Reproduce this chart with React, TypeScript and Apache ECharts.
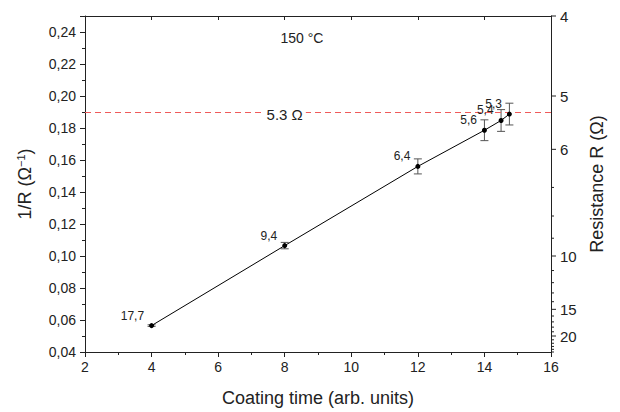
import React, { useEffect, useRef } from 'react';
import * as echarts from 'echarts';

const coatingTime = [4, 8, 12, 14, 14.5, 14.75];
const inverseR = [0.0565, 0.1065, 0.156, 0.1786, 0.1847, 0.1887];
const errorR = [0.0005, 0.002, 0.0047, 0.0065, 0.0068, 0.0068];
const resistanceLabels = ['17,7', '9,4', '6,4', '5,6', '5,4', '5,3'];
const thresholdR = 5.3;
const thresholdLabel = '5.3 Ω';
const thresholdLabelX = 8;
const rTicks = [4, 5, 6, 7, 8, 9, 10, 11, 12, 13, 14, 15, 16, 17, 18, 19, 20, 21, 22, 23, 24, 25];
const rMajor = [4, 5, 6, 10, 15, 20];
const tempLabel = '150 °C';

const FONT = "'Liberation Sans', Arial, sans-serif";
const TXT = '#222';

export default function App() {
  const ref = useRef<HTMLDivElement>(null);
  useEffect(() => {
    if (!ref.current) return;
    const chart = echarts.init(ref.current, undefined, { renderer: 'svg' });
    const points = coatingTime.map((x, i) => [x, inverseR[i]]);
    const errData = coatingTime.map((x, i) => [x, inverseR[i] - errorR[i], inverseR[i] + errorR[i]]);
    const rData = rTicks.map((r) => [r, rMajor.includes(r) ? 1 : 0]);
    const option: any = {
      animation: false,
      textStyle: { fontFamily: FONT },
      grid: { left: 85, right: 69, top: 16, bottom: 59 },
      graphic: [
        {
          type: 'text',
          x: 302,
          y: 38,
          style: { text: tempLabel, fontSize: 14, fontFamily: FONT, fill: TXT, align: 'center', verticalAlign: 'middle' },
        },
      ],
      xAxis: [
        {
          type: 'value',
          min: 2,
          max: 16,
          interval: 2,
          position: 'bottom',
          name: 'Coating time (arb. units)',
          nameLocation: 'middle',
          nameGap: 37,
          nameTextStyle: { fontSize: 18, color: TXT, fontFamily: FONT },
          axisLine: { show: true, lineStyle: { color: '#222', width: 1 } },
          axisTick: { show: true, length: 5, lineStyle: { color: '#222' } },
          minorTick: { show: true, splitNumber: 2, length: 3, lineStyle: { color: '#222' } },
          axisLabel: { fontSize: 14, color: TXT, margin: 8, fontFamily: FONT },
          splitLine: { show: false },
        },
        {
          type: 'value',
          min: 2,
          max: 16,
          interval: 2,
          position: 'top',
          axisLine: { show: true, lineStyle: { color: '#222', width: 1 } },
          axisTick: { show: true, inside: true, length: 4, lineStyle: { color: '#222' } },
          minorTick: { show: false },
          axisLabel: { show: false },
          splitLine: { show: false },
        },
      ],
      yAxis: [
        {
          type: 'value',
          min: 0.04,
          max: 0.25,
          interval: 0.02,
          position: 'left',
          name: '{a|1/R (Ω}{s|−1}{a|)}',
          nameLocation: 'middle',
          nameRotate: 90,
          nameGap: 50,
          nameTextStyle: {
            color: TXT,
            rich: {
              a: { fontSize: 18, color: TXT, fontFamily: FONT },
              s: { fontSize: 11, color: TXT, fontFamily: FONT, verticalAlign: 'top', padding: [0, 0, 9, 0] },
            },
          },
          axisLine: { show: true, lineStyle: { color: '#222', width: 1 } },
          axisTick: { show: true, length: 5, lineStyle: { color: '#222' } },
          minorTick: { show: true, splitNumber: 2, length: 3, lineStyle: { color: '#222' } },
          axisLabel: {
            fontSize: 14,
            color: TXT,
            margin: 9,
            fontFamily: FONT,
            showMaxLabel: false,
            formatter: (v: number) => (v > 0.245 ? '' : v.toFixed(2).replace('.', ',')),
          },
          splitLine: { show: false },
        },
        {
          type: 'value',
          min: 0.04,
          max: 0.25,
          interval: 0.02,
          position: 'right',
          name: 'Resistance R (Ω)',
          nameLocation: 'middle',
          nameRotate: 90,
          nameGap: 37,
          nameTextStyle: { fontSize: 18, color: TXT, fontFamily: FONT },
          axisLine: { show: true, lineStyle: { color: '#222', width: 1 } },
          axisTick: { show: false },
          axisLabel: { show: false },
          splitLine: { show: false },
        },
      ],
      series: [
        {
          type: 'custom',
          name: 'rAxis',
          xAxisIndex: 0,
          yAxisIndex: 0,
          clip: false,
          silent: true,
          data: rData,
          renderItem: (params: any, api: any) => {
            const r = api.value(0);
            const major = api.value(1) === 1;
            const p = api.coord([16, 1 / r]);
            const len = major ? 5 : 3;
            const children: any[] = [
              {
                type: 'line',
                shape: { x1: p[0], y1: p[1], x2: p[0] + len, y2: p[1] },
                style: { stroke: '#222', lineWidth: 1 },
              },
            ];
            if (major) {
              children.push({
                type: 'text',
                x: p[0] + 9,
                y: p[1],
                style: { text: String(r), fontSize: 15, fontFamily: FONT, fill: TXT, align: 'left', verticalAlign: 'middle' },
              });
            }
            return { type: 'group', children };
          },
        },
        {
          type: 'line',
          data: points,
          symbol: 'circle',
          symbolSize: 5,
          itemStyle: { color: '#000' },
          lineStyle: { color: '#000', width: 1 },
          z: 5,
          label: {
            show: true,
            position: 'left',
            distance: 5,
            offset: [0, -10],
            fontSize: 12,
            color: TXT,
            fontFamily: FONT,
            formatter: (p: any) => resistanceLabels[p.dataIndex],
          },
          markLine: {
            silent: true,
            symbol: 'none',
            label: { show: false },
            lineStyle: { color: '#f05a5a', type: [6, 4], width: 1 },
            data: [{ yAxis: 1 / thresholdR }],
          },
        },
        {
          type: 'custom',
          name: 'errors',
          xAxisIndex: 0,
          yAxisIndex: 0,
          silent: true,
          z: 4,
          data: errData,
          renderItem: (params: any, api: any) => {
            const x = api.value(0);
            const lo = api.coord([x, api.value(1)]);
            const hi = api.coord([x, api.value(2)]);
            const w = 4;
            const st = { stroke: '#555', lineWidth: 1 };
            return {
              type: 'group',
              children: [
                { type: 'line', shape: { x1: lo[0], y1: lo[1], x2: hi[0], y2: hi[1] }, style: st },
                { type: 'line', shape: { x1: lo[0] - w, y1: lo[1], x2: lo[0] + w, y2: lo[1] }, style: st },
                { type: 'line', shape: { x1: hi[0] - w, y1: hi[1], x2: hi[0] + w, y2: hi[1] }, style: st },
              ],
            };
          },
        },
        {
          type: 'custom',
          name: 'thresholdLabel',
          xAxisIndex: 0,
          yAxisIndex: 0,
          silent: true,
          z: 6,
          data: [[thresholdLabelX, 1 / thresholdR]],
          renderItem: (params: any, api: any) => {
            const p = api.coord([api.value(0), api.value(1)]);
            return {
              type: 'text',
              x: p[0],
              y: p[1],
              style: {
                text: thresholdLabel,
                fontSize: 15,
                fontFamily: FONT,
                fill: TXT,
                align: 'center',
                verticalAlign: 'middle',
                backgroundColor: '#fff',
                padding: [1, 3],
              },
            };
          },
        },
      ],
    };
    chart.setOption(option);
    return () => chart.dispose();
  }, []);
  return <div ref={ref} style={{ width: 620, height: 412, position: 'absolute', left: 0, top: 0, background: '#fff' }} />;
}
